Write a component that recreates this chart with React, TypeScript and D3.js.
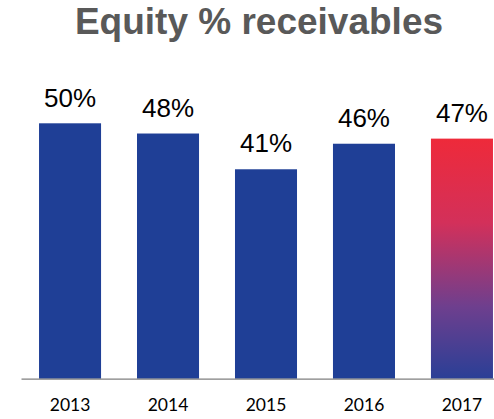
import { useEffect, useRef } from "react";
import * as d3 from "d3";

const YEARS = ["2013", "2014", "2015", "2016", "2017"];
const VALUES = [50, 48, 41, 46, 47];
const LABELS = ["50%", "48%", "41%", "46%", "47%"];
const HIGHLIGHT = "2017";

const App = () => {
  const svgRef = useRef<SVGSVGElement>(null);

  useEffect(() => {
    if (!svgRef.current) return;
    const width = 494;
    const height = 419;
    const baseline = 378.7;

    const svg = d3.select(svgRef.current);
    svg.selectAll("*").remove();
    svg.attr("width", width).attr("height", height);

    const data = YEARS.map((year, i) => ({ year, value: VALUES[i], label: LABELS[i] }));

    const x = d3
      .scaleBand()
      .domain(YEARS)
      .range([21, 511])
      .paddingInner(0.367)
      .paddingOuter(0.184);

    const y = d3.scaleLinear().domain([0, 50]).range([baseline, 123.3]);

    // Gradient for the latest year
    const defs = svg.append("defs");
    const grad = defs
      .append("linearGradient")
      .attr("id", "hl-grad")
      .attr("x1", 0)
      .attr("y1", 0)
      .attr("x2", 0)
      .attr("y2", 1);
    grad.append("stop").attr("offset", "0%").attr("stop-color", "#EE2A3A");
    grad.append("stop").attr("offset", "35%").attr("stop-color", "#D3305A");
    grad.append("stop").attr("offset", "70%").attr("stop-color", "#6E3F8E");
    grad.append("stop").attr("offset", "100%").attr("stop-color", "#2A3F96");

    // Title
    svg
      .append("text")
      .attr("x", 259)
      .attr("y", 34)
      .attr("text-anchor", "middle")
      .attr("font-family", "'Liberation Sans', Arial, sans-serif")
      .attr("font-weight", "bold")
      .attr("font-size", "37px")
      .attr("fill", "#595959")
      .text("Equity % receivables");

    // Bars
    svg
      .append("g")
      .selectAll("rect")
      .data(data)
      .join("rect")
      .attr("x", (d) => x(d.year)!)
      .attr("y", (d) => y(d.value))
      .attr("width", x.bandwidth())
      .attr("height", (d) => baseline - y(d.value))
      .attr("fill", (d) => (d.year === HIGHLIGHT ? "url(#hl-grad)" : "#1F3F96"));

    // Value labels
    svg
      .append("g")
      .selectAll("text")
      .data(data)
      .join("text")
      .attr("x", (d) => x(d.year)! + x.bandwidth() / 2)
      .attr("y", (d) => y(d.value) - 16.8)
      .attr("text-anchor", "middle")
      .attr("font-family", "'Liberation Sans', Arial, sans-serif")
      .attr("font-size", "26px")
      .attr("fill", "#000")
      .text((d) => d.label);

    // Axis
    const axis = svg
      .append("g")
      .attr("transform", `translate(0,${baseline})`)
      .call(d3.axisBottom(x).tickSize(0).tickPadding(20));
    axis.select(".domain").attr("stroke", "#7f7f7f").attr("stroke-width", 1.3);
    axis
      .selectAll("text")
      .attr("font-family", "Lato, 'Liberation Sans', sans-serif")
      .attr("font-size", "17.5px")
      .attr("fill", "#000");
  }, []);

  return (
    <div style={{ position: "absolute", left: 0, top: 0 }}>
      <svg ref={svgRef} style={{ display: "block" }} />
    </div>
  );
};

export default App;
